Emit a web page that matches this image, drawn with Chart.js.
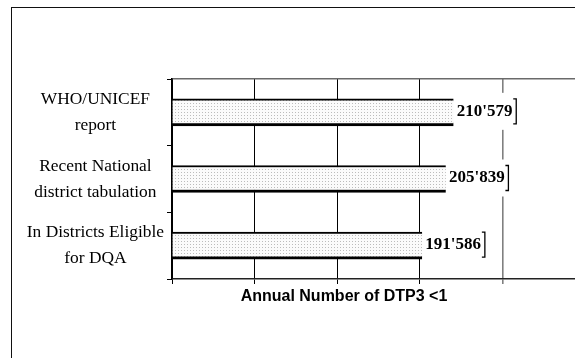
<!DOCTYPE html>
<html>
<head>
<meta charset="utf-8">
<script src="https://cdn.jsdelivr.net/npm/chart.js@4/dist/chart.umd.min.js"></script>
<style>
  html, body { margin: 0; padding: 0; background: #fff; overflow: hidden; }
  #wrap { position: relative; width: 575px; height: 358px; }
  #frame { position: absolute; left: 11px; top: 7px; width: 600px; height: 400px;
           border-left: 1px solid #111; border-top: 1px solid #111; }
  canvas { position: absolute; left: 0; top: 0; }
</style>
</head>
<body>
<div id="wrap">
  <div id="frame"></div>
  <canvas id="dtpChart" width="575" height="358"></canvas>
</div>
<script>
// chart data
const categories = [
  ['WHO/UNICEF', 'report'],
  ['Recent National', 'district tabulation'],
  ['In Districts Eligible', 'for DQA']
];
const dtp3Values = [210579, 205839, 191586];
const axisMin = 40000;
const axisMax = 284000;
const gridValues = [40000, 90000, 140000, 190000, 240000];
const greyGridValue = 240000;
const axisTitle = 'Annual Number of DTP3 <1';

const serif = "'Liberation Serif', 'Times New Roman', serif";
const sans = "'Liberation Sans', Arial, sans-serif";

// numbers like 210'579
function fmt(v) {
  return String(v).replace(/\B(?=(\d{3})+(?!\d))/g, "'");
}

// dotted fill for the bars
function dotPattern() {
  const c = document.createElement('canvas');
  c.width = 3; c.height = 3;
  const g = c.getContext('2d');
  g.fillStyle = '#fbfbfb';
  g.fillRect(0, 0, 3, 3);
  g.fillStyle = '#bcbcbc';
  g.fillRect(1, 1, 1, 1);
  return g.createPattern(c, 'repeat');
}

const ctx = document.getElementById('dtpChart').getContext('2d');

// value boxes at the end of each bar, white box + bracket
const valueLabels = {
  id: 'valueLabels',
  afterDatasetsDraw(chart) {
    const c = chart.ctx;
    const meta = chart.getDatasetMeta(0);
    meta.data.forEach((bar, i) => {
      const top = bar.y - bar.height / 2;
      const bottom = bar.y + bar.height / 2;
      c.save();
      c.fillStyle = '#fff';
      c.fillRect(bar.x, top - 6, 66, bar.height + 10);
      c.fillStyle = '#000';
      c.font = 'bold 17px ' + serif;
      c.textAlign = 'left';
      c.textBaseline = 'middle';
      c.fillText(fmt(chart.data.datasets[0].data[i]), bar.x + 3, bar.y - 1);
      const bx = bar.x + 62.5;
      c.strokeStyle = '#000';
      c.lineWidth = 1.3;
      c.beginPath();
      c.moveTo(bx - 3, top);
      c.lineTo(bx, top);
      c.lineTo(bx, bottom - 2);
      c.lineTo(bx - 3, bottom - 2);
      c.stroke();
      c.restore();
    });
  }
};

// axis title sits left of the plot centre in the original
const xTitle = {
  id: 'xTitle',
  afterDraw(chart) {
    const c = chart.ctx;
    c.save();
    c.fillStyle = '#000';
    c.font = 'bold 16px ' + sans;
    c.textAlign = 'center';
    c.textBaseline = 'alphabetic';
    c.fillText(axisTitle, 344, 301);
    c.restore();
  }
};

new Chart(ctx, {
  type: 'bar',
  data: {
    labels: categories,
    datasets: [{
      data: dtp3Values,
      base: axisMin,
      backgroundColor: dotPattern(),
      borderColor: '#000',
      borderWidth: { top: 2, bottom: 3, left: 0, right: 0 },
      borderSkipped: false,
      barThickness: 27,
      categoryPercentage: 1
    }]
  },
  options: {
    indexAxis: 'y',
    responsive: false,
    animation: false,
    events: [],
    layout: { padding: { top: 79, left: 0, right: 0, bottom: 0 } },
    plugins: {
      legend: { display: false },
      tooltip: { enabled: false },
      title: { display: false }
    },
    scales: {
      x: {
        type: 'linear',
        position: 'bottom',
        min: axisMin,
        max: axisMax,
        afterBuildTicks: (s) => { s.ticks = gridValues.map(v => ({ value: v })); },
        ticks: { display: false },
        grid: {
          color: (c) => (c.tick && c.tick.value === greyGridValue) ? '#808080' : '#000',
          lineWidth: (c) => (c.tick && c.tick.value === greyGridValue) ? 1.6 : 1,
          tickLength: 5
        },
        border: { color: '#222', width: 1.5 },
        afterFit: (s) => { s.height = 79; }
      },
      x2: {
        type: 'linear',
        position: 'top',
        min: axisMin,
        max: axisMax,
        ticks: { display: false },
        grid: { display: false, drawTicks: false },
        border: { color: '#6a6a6a', width: 1.5 },
        afterFit: (s) => { s.height = 0; }
      },
      y: {
        type: 'category',
        position: 'left',
        offset: true,
        ticks: {
          crossAlign: 'center',
          padding: 3,
          color: '#000',
          font: { family: serif, size: 17.4, lineHeight: 1.5 }
        },
        grid: {
          offset: true,
          drawOnChartArea: false,
          tickLength: 5,
          color: '#000'
        },
        border: { color: '#000', width: 1.5 },
        afterFit: (s) => { s.width = 172; }
      }
    }
  },
  plugins: [valueLabels, xTitle]
});
</script>
</body>
</html>
